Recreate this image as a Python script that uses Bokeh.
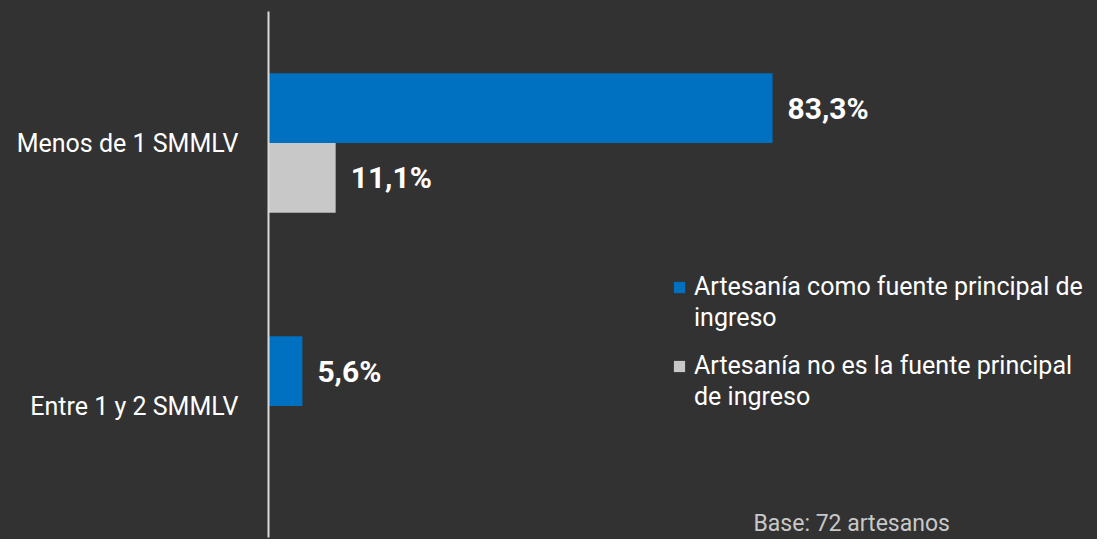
from bokeh.plotting import figure
from bokeh.models import ColumnDataSource, FactorRange, Range1d, Legend, LegendItem, Label
from bokeh.transform import dodge
from bokeh.core.properties import value
from bokeh.embed import file_html
from bokeh.resources import INLINE

# ---- data ----
categories = ["Menos de 1 SMMLV", "Entre 1 y 2 SMMLV"]
principal = [83.3, 5.6]          # Artesanía como fuente principal de ingreso
no_principal = [11.1, 0.0]       # Artesanía no es la fuente principal de ingreso
series_lines = [["Artesanía como fuente principal de", "ingreso"],
                ["Artesanía no es la fuente principal", "de ingreso"]]
base_note = "Base: 72 artesanos"

BG = "#323232"
BLUE = "#0070C0"
GREY = "#C8C8C8"
FONT = "Roboto"


def fmt(v):
    return ("%.1f%%" % v).replace(".", ",") if v > 0 else ""


src = ColumnDataSource(dict(
    cat=categories,
    p=principal,
    n=no_principal,
    p_lbl=[fmt(v) for v in principal],
    n_lbl=[fmt(v) for v in no_principal],
))

p = figure(
    y_range=FactorRange(factors=list(reversed(categories)), range_padding=0),
    x_range=Range1d(0, 137.0),
    width=1097, height=539,
    output_backend="svg", toolbar_location=None,
    x_axis_location=None,
    min_border_left=268, min_border_right=0, min_border_top=11, min_border_bottom=2,
    background_fill_color=BG, border_fill_color=BG, outline_line_color=None,
)
p.styles = {"background-color": BG}

p.grid.visible = False
ax = p.yaxis[0]
ax.major_tick_line_color = None
ax.minor_tick_line_color = None
ax.axis_line_color = "#D9D9D9"
ax.axis_line_width = 2
ax.major_label_text_color = "#FFFFFF"
ax.major_label_text_font = FONT
ax.major_label_text_font_size = "25px"
ax.major_label_standoff = 24

bh = 0.265
r1 = p.hbar(y=dodge("cat", bh / 2, range=p.y_range), left=0, right="p", height=bh,
            source=src, fill_color=BLUE, line_color=None)
r2 = p.hbar(y=dodge("cat", -bh / 2, range=p.y_range), left=0, right="n", height=bh,
            source=src, fill_color=GREY, line_color=None)
# invisible renderer used for legend continuation lines (no glyph drawn)
blank = p.hbar(y=[], right=[], height=bh, fill_alpha=0, line_alpha=0)

common = dict(text_color="#FFFFFF", text_font=value(FONT), text_font_size="30px",
              text_font_style="bold", text_align="left", text_baseline="middle",
              x_offset=15, source=src)
p.text(x="p", y=dodge("cat", bh / 2, range=p.y_range), text="p_lbl", **common)
p.text(x="n", y=dodge("cat", -bh / 2, range=p.y_range), text="n_lbl", **common)

leg_style = dict(
    background_fill_alpha=0, border_line_color=None,
    label_text_color="#FFFFFF", label_text_font=FONT, label_text_font_size="25px",
    label_height=31, glyph_width=14, glyph_height=14, label_standoff=8,
    padding=0, margin=0, spacing=0,
)
for lines, rend, loc in [(series_lines[0], r1, (404, 204)),
                         (series_lines[1], r2, (404, 125))]:
    leg = Legend(items=[LegendItem(label=lines[0], renderers=[rend]),
                        LegendItem(label=lines[1], renderers=[blank])],
                 location=loc, **leg_style)
    p.add_layout(leg, "center")

p.add_layout(Label(x=485, y=1, x_units="screen", y_units="screen", text=base_note,
                   text_color="#C8C8C8", text_font=FONT, text_font_size="23px",
                   text_baseline="bottom", text_align="left"))

open("out.html", "w").write(file_html(p, INLINE))
